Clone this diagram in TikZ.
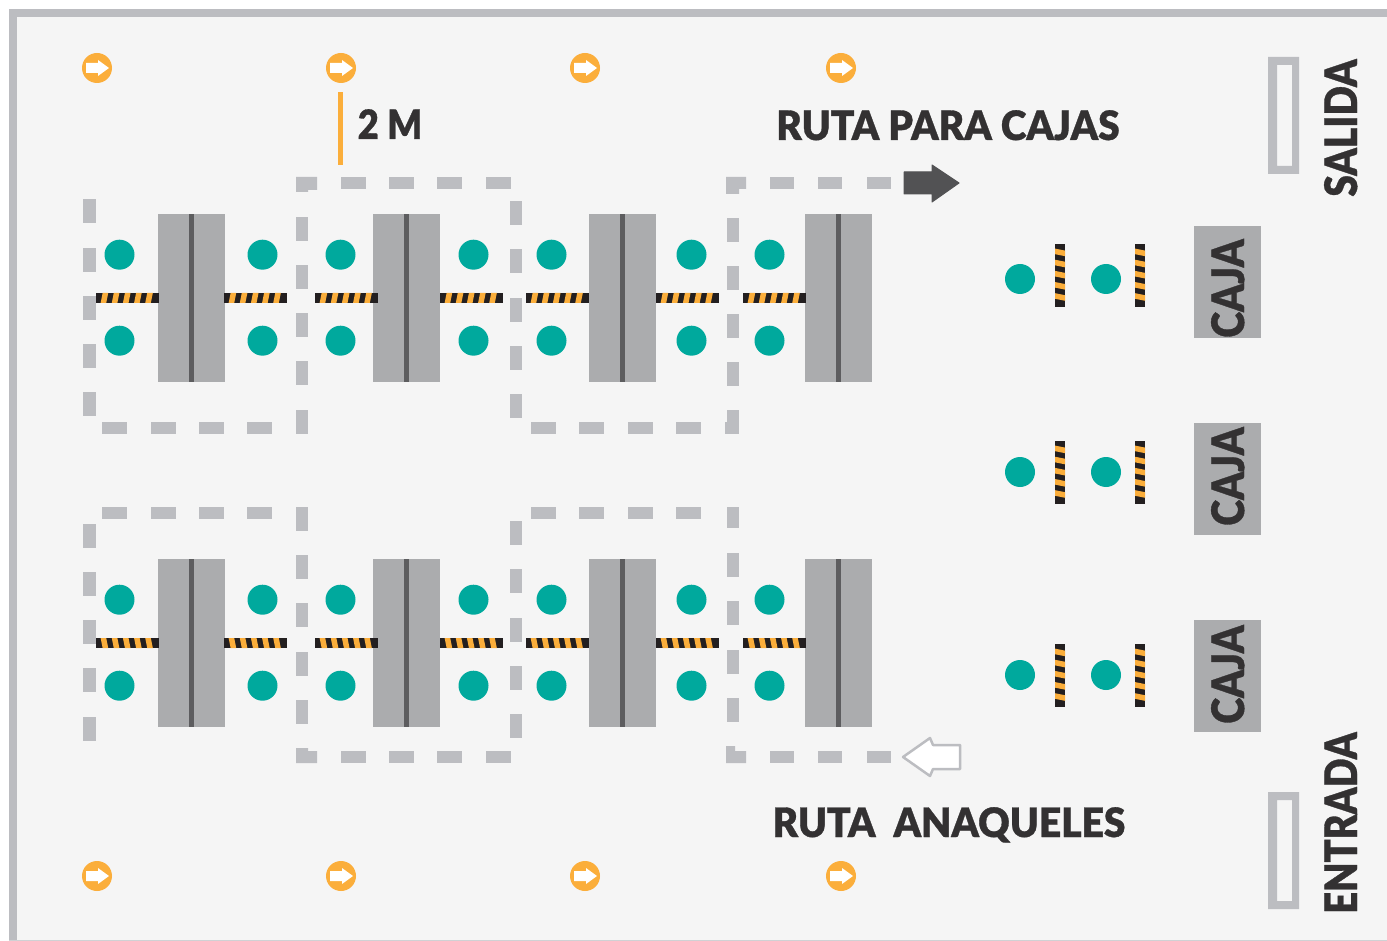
\documentclass[tikz,border=0pt]{standalone}
\usepackage{fontspec}
\setmainfont{Lato}[BoldFont={Lato Black},BoldFeatures={FakeBold=0.8}]
\usetikzlibrary{positioning}
\definecolor{floor-gray}{HTML}{F5F5F5}
\definecolor{route-gray}{HTML}{BCBDC1}
\definecolor{shelf-gray}{HTML}{ABACAE}
\definecolor{bar-gray}{HTML}{5D5D5F}
\definecolor{arrow-gray}{HTML}{525254}
\definecolor{label-black}{HTML}{333132}
\definecolor{tape-black}{HTML}{231F20}
\definecolor{tape-orange}{HTML}{FBAE3B}
\definecolor{staff-teal}{HTML}{00A99D}
\tikzset{
	route/.style={fill=route-gray},
	shelf/.style={fill=shelf-gray},
	staff/.style={fill=staff-teal},
	signtext/.style={text=label-black,font=\bfseries\fontsize{#1}{#1}\selectfont,inner sep=0pt,anchor=base},
}
% tape along x: start, y, slant
\newcommand{\tapex}[3]{
	\fill[tape-black] (#1,#2) rectangle ++(63,10);
	\foreach \i in {0,...,4}
		\fill[tape-orange] ({#1+5.6+11.15*\i+#3},#2) -- ++(5.6,0) -- ++({-2*#3},10) -- ++(-5.6,0) -- cycle;
}
% tape along y: x, start, slant
\newcommand{\tapey}[3]{
	\fill[tape-black] (#1,#2) rectangle ++(10,63);
	\foreach \i in {0,...,4}
		\fill[tape-orange] (#1,{#2+5.6+11.15*\i-#3}) -- ++(0,5.6) -- ++(10,{2*#3}) -- ++(0,-5.6) -- cycle;
}
% one row of shelves: top of shelf, tape slant
\newcommand{\shelfrow}[2]{
	\foreach \x in {158,373,589,805} {
		\fill[shelf] (\x,#1) rectangle ++(67,168);
		\fill[bar-gray] (\x+31,#1) rectangle ++(5,168);
	}
	\foreach \x in {119.5,262.5,340.5,473.5,551.5,691.5,769.5} {
		\fill[staff] (\x,#1+40.7) circle (15);
		\fill[staff] (\x,#1+126.7) circle (15);
	}
	\foreach \x in {96,224,315,440,526,656,743} {
		\tapex{\x}{#1+79}{#2}
	}
}
% pillar with small arrow
\newcommand{\pillar}[2]{
	\fill[tape-orange] (#1,#2) circle (15);
	\fill[white] (#1-11,#2-5) -- ++(12,0) -- ++(0,-3) -- ++(11,8) -- ++(-11,8) -- ++(0,-3) -- ++(-12,0) -- cycle;
}
\begin{document}
\begin{tikzpicture}[x=1pt,y=-1pt]
	\useasboundingbox (0,0) rectangle (1387,941);
	% floor and walls
	\fill[floor-gray] (9,9) rectangle (1387,940);
	\fill[route] (9,9) rectangle (1387,17);
	\fill[route] (9,9) rectangle (17,940);
	\fill[route-gray!70] (9,940) rectangle (1387,941);

	% pillars
	\foreach \x in {97,341,585,841} {
		\pillar{\x}{68}
		\pillar{\x}{876}
	}

	% height mark
	\fill[tape-orange] (338,92) rectangle (342.5,165);
	\node[signtext=40.5] (height) at (390,139) {\scalebox{0.9}[1]{2 M}};

	% shelves
	\shelfrow{214}{1}
	\shelfrow{559}{-1}

	% route, upper block
	\foreach \y in {199,248,296,344,392} \fill[route] (83,\y) rectangle ++(13,24);
	\foreach \x in {102,151,199,247,531,579,628,676} \fill[route] (\x,422) rectangle ++(25,12);
	\foreach \y in {217,265,313,361,410} \fill[route] (296,\y) rectangle ++(12,24);
	\fill[route] (296,177) rectangle (317,190) (296,190) rectangle (308,192);
	\foreach \x in {341,389,437,486} \fill[route] (\x,177) rectangle ++(25,12);
	\foreach \y in {201,249,298,346,394} \fill[route] (510,\y) rectangle ++(12,24);
	\foreach \y in {218,266,314,362,410} \fill[route] (727,\y) rectangle ++(12,24);
	\fill[route] (726,177) rectangle (746,189) (726,189) rectangle (739,194);
	\fill[route] (725,422) rectangle (739,434);
	\foreach \x in {770,818,867} \fill[route] (\x,177) rectangle ++(24,12);

	% route, lower block
	\foreach \y in {524,572,620,668,717} \fill[route] (83,\y) rectangle ++(13,24);
	\foreach \x in {102,151,199,247,531,579,628,676} \fill[route] (\x,507) rectangle ++(25,12);
	\foreach \y in {507,555,603,652,700} \fill[route] (296,\y) rectangle ++(12,24);
	\fill[route] (296,748) rectangle (308,751) (296,751) rectangle (317,763);
	\foreach \x in {341,389,437,486} \fill[route] (\x,751) rectangle ++(25,12);
	\foreach \y in {521,569,618,666,714} \fill[route] (510,\y) rectangle ++(12,24);
	\foreach \y in {553,601,650,698} \fill[route] (727,\y) rectangle ++(12,24);
	\fill[route] (727,507) rectangle (739,528);
	\fill[route] (726,746) rectangle (735,751) (726,751) rectangle (746,763);
	\foreach \x in {770,818,867} \fill[route] (\x,751) rectangle ++(24,12);

	% route arrows
	\fill[arrow-gray,draw=arrow-gray,line width=1pt,line join=round] (904,172) -- (932,172) -- (932,165) -- (959,183) -- (932,202) -- (932,194) -- (904,194) -- cycle;
	\filldraw[fill=white,draw=route-gray,line width=2.5pt,line join=round] (960,745) -- (933,745) -- (930,738) -- (903,757) -- (930,776) -- (933,769) -- (960,769) -- cycle;
	\node[signtext=40.5] (toboxes) at (948,140) {\scalebox{0.96}[1]{RUTA PARA CAJAS}};
	\node[signtext=40.5] (toshelves) at (949,837) {\scalebox{0.96}[1]{RUTA\ \ ANAQUELES}};

	% boxes
	\foreach \n/\y/\t/\c/\p in {a/226/244/279/288.5,b/423/441/472/476.5,c/620/644/675/674.5} {
		\fill[shelf] (1194,\y) rectangle ++(67,112);
		\node[signtext=44.7,rotate=90] (caja\n) at (1244,\p) {\scalebox{0.88}[1]{CAJA}};
		\tapey{1055}{\t}{1}
		\tapey{1135}{\t}{1}
		\fill[staff] (1020,\c) circle (15);
		\fill[staff] (1106,\c) circle (15);
	}

	% doors
	\foreach \y in {57,792} {
		\fill[route,even odd rule] (1268,\y) rectangle ++(31,117) (1277,\y+8) rectangle ++(15,101);
	}
	\node[signtext=44.7,rotate=90] (salida) at (1357,128) {\scalebox{0.87}[1]{SALIDA}};
	\node[signtext=44.7,rotate=90] (entrada) at (1357,823) {\scalebox{0.85}[1]{ENTRADA}};
\end{tikzpicture}
\end{document}
